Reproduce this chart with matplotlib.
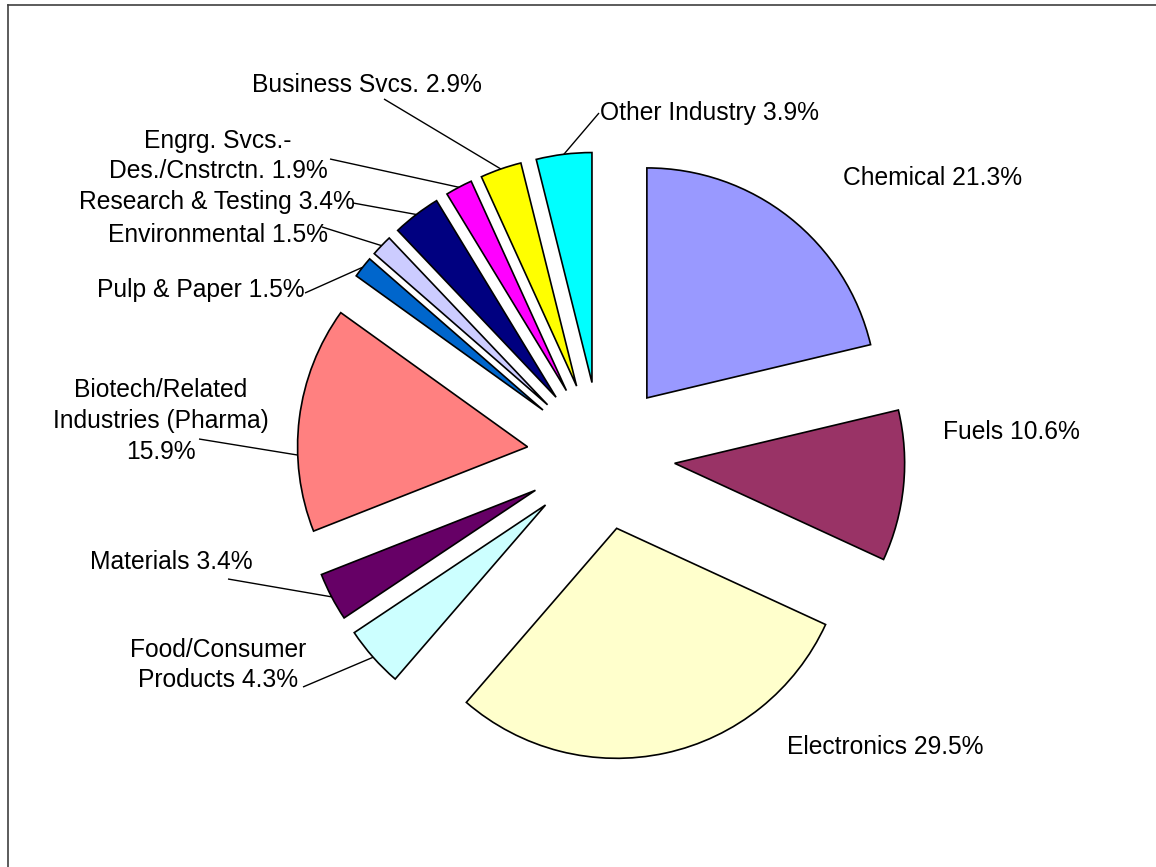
import matplotlib
matplotlib.use("Agg")
import matplotlib.pyplot as plt
from matplotlib.lines import Line2D
import numpy as np

W, H = 1156, 867

# data: industry share of the total, clockwise from 12 o'clock
sectors = ["Chemical", "Fuels", "Electronics", "Food/Consumer\nProducts", "Materials",
           "Biotech/Related\nIndustries (Pharma)", "Pulp & Paper", "Environmental",
           "Research & Testing", "Engrg. Svcs.-\nDes./Cnstrctn.", "Business Svcs.",
           "Other Industry"]
shares = [21.3, 10.6, 29.5, 4.3, 3.4, 15.9, 1.5, 1.5, 3.4, 1.9, 2.9, 3.9]
colors = ["#9999FF", "#993366", "#FFFFCC", "#CCFFFF", "#660066", "#FF8080",
          "#0066CC", "#CCCCFF", "#000080", "#FF00FF", "#FFFF00", "#00FFFF"]

# label layout in pixels (y measured from the top), leader start points
label_pos = [(843, 178, "left"), (943, 432, "left"), (787, 747, "left"),
             (218, 665, "center"), (171, 562, "center"), (161, 421, "center"),
             (201, 290, "center"), (218, 235, "center"), (217, 202, "center"),
             (218, 156, "center"), (367, 85, "center"), (600, 113, "left")]
leader_from = [None, None, None, (303, 687), (228, 579), (199, 439), (305, 293),
               (322, 227), (353, 203), (330, 159), (384, 99), (599, 113)]
# where on the outer arc the leader ends (0 = clockwise start, 1 = end)
arc_frac = [0.5, 0.5, 0.5, 0.5, 0.5, 0.34, 0.5, 0.5, 0.5, 0.5, 0.5, 0.5]

fig = plt.figure(figsize=(W / 100, H / 100), dpi=100)
ax = fig.add_axes([0, 0, 1, 1])

wedges, _ = ax.pie(shares, colors=colors, startangle=90, counterclock=False,
                   center=(601, H - 456), radius=230, explode=[74] * len(shares),
                   wedgeprops=dict(edgecolor="black", linewidth=1.2))
ax.set_xlim(0, W)
ax.set_ylim(0, H)
ax.set_aspect("equal")
ax.axis("off")

font = dict(family=["Liberation Sans", "DejaVu Sans"], size=17.7, color="black")

for i, w in enumerate(wedges):
    sep = "\n" if sectors[i].startswith("Biotech") else " "
    text = f"{sectors[i]}{sep}{shares[i]:.1f}%"
    x, y, ha = label_pos[i]
    ax.text(x, H - y, text, ha=ha, va="center", multialignment="center",
            linespacing=1.35, **font)
    if leader_from[i] is not None:
        a = np.radians(w.theta2 - arc_frac[i] * (w.theta2 - w.theta1))
        ex = w.center[0] + w.r * np.cos(a)
        ey = w.center[1] + w.r * np.sin(a)
        sx, sy = leader_from[i]
        ax.plot([sx, ex], [H - sy, ey], color="black", lw=1.0, solid_capstyle="butt")

# chart area frame (only top and left edges fall inside the picture)
fig.add_artist(Line2D([8 / W, 8 / W], [0, 1 - 5 / H], transform=fig.transFigure,
                      color="#404040", lw=1.2))
fig.add_artist(Line2D([8 / W, 1], [1 - 5 / H, 1 - 5 / H], transform=fig.transFigure,
                      color="#404040", lw=1.2))

fig.savefig("out.png", dpi=100)
